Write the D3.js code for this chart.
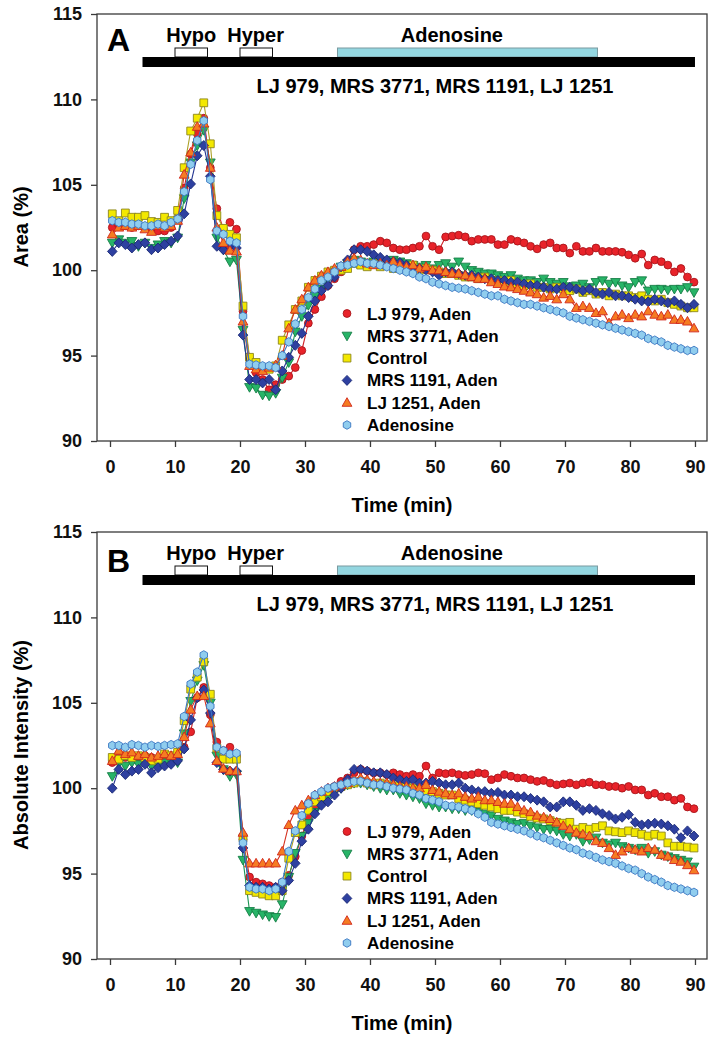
<!DOCTYPE html>
<html>
<head>
<meta charset="utf-8">
<script src="https://cdn.jsdelivr.net/npm/d3@7"></script>
<style>
  body { margin: 0; background: #fff; }
  svg { display: block; font-family: "Liberation Sans", Arial, sans-serif; font-weight: bold; }
</style>
</head>
<body>
<svg id="chart" width="715" height="1042"></svg>
<script>
// sampling times (min), one frame per ~1 min
const times = d3.range(90).map(i => 0.35 + i * 1.0056);
const x_ticks = [0, 10, 20, 30, 40, 50, 60, 70, 80, 90];
const y_ticks = [90, 95, 100, 105, 110, 115];
const legend_names = ["LJ 979, Aden", "MRS 3771, Aden", "Control", "MRS 1191, Aden", "LJ 1251, Aden", "Adenosine"];
const protocol_labels = ["Hypo", "Hyper", "Adenosine"];
const drug_label = "LJ 979, MRS 3771, MRS 1191, LJ 1251";

// ---- panel A : Area (%) ----
const area_lj979 = [
  102.5, 102.6, 102.6, 102.5, 102.6, 102.5, 102.4, 102.3, 102.3, 102.5,
  103.0, 104.8, 106.8, 108.0, 108.9, 106.0, 103.6, 102.4, 102.8, 102.4,
  97.6, 94.8, 94.0, 93.6, 93.0, 93.3, 93.6, 93.8, 94.3, 95.3,
  96.9, 97.7, 98.45, 99.1, 99.5, 99.9, 100.5, 101.2, 101.4, 101.4,
  101.5, 101.7, 101.6, 101.3, 101.2, 101.2, 101.3, 101.4, 102.0, 101.4,
  101.2, 101.95, 102.0, 102.05, 101.95, 101.7, 101.8, 101.8, 101.8, 101.5,
  101.5, 101.8, 101.7, 101.6, 101.4, 101.25, 101.5, 101.6, 101.3, 101.3,
  101.0, 101.4, 101.1, 101.1, 101.3, 101.1, 101.1, 101.1, 101.05, 100.9,
  100.7, 100.95, 100.3, 100.6, 100.5, 100.3, 99.9, 100.1, 99.6, 99.3
];
const area_mrs3771 = [
  101.6, 101.8, 101.6, 101.7, 101.4, 101.6, 101.3, 101.5, 101.7, 101.6,
  101.9, 104.2, 106.3, 107.3, 108.2, 106.3, 101.9, 101.2, 100.5, 100.6,
  96.5, 93.15, 93.1, 92.7, 92.65, 92.8, 93.7, 94.6, 96.4, 97.3,
  97.95, 98.5, 98.9, 99.5, 99.8, 100.2, 100.4, 100.6, 100.5, 100.4,
  100.5, 100.4, 100.5, 100.6, 100.5, 100.4, 100.3, 100.2, 100.3, 100.1,
  100.3, 100.4, 100.2, 100.5, 100.2, 100.0, 99.9, 99.8, 99.8, 99.7,
  99.6, 99.7, 99.5, 99.4, 99.4, 99.3, 99.5, 99.3, 99.2, 99.3,
  99.05, 99.1, 99.2, 99.0, 99.3, 99.4, 99.2, 99.3, 99.1, 99.0,
  99.3, 99.4, 98.8, 98.9, 98.9, 98.85, 98.9, 98.9, 99.0, 98.7
];
const area_control = [
  103.3, 102.9, 103.35, 103.1, 103.1, 103.2, 102.85, 102.8, 103.1, 102.9,
  103.5, 106.0, 108.15, 108.9, 109.8, 107.4, 103.2, 102.45, 102.1, 101.9,
  97.9, 94.9, 94.6, 94.2, 94.2, 94.4, 95.9, 96.8, 97.7, 98.2,
  99.0, 99.4, 99.65, 99.9, 100.0, 100.0, 100.1, 100.4, 100.3, 100.2,
  100.4, 100.2, 100.3, 100.1, 100.2, 100.1, 100.3, 100.0, 100.1, 100.0,
  99.9, 99.8, 99.8, 99.7, 99.6, 99.6, 99.5, 99.6, 99.4, 99.4,
  99.3, 99.4, 99.2, 99.1, 99.2, 99.0, 99.0, 98.9, 99.0, 98.9,
  98.8, 98.9, 98.7, 98.8, 98.6, 98.7, 98.5, 98.6, 98.5, 98.5,
  98.4, 98.5, 98.3, 98.2, 98.3, 98.1, 98.0, 97.9, 97.8, 97.8
];
const area_mrs1191 = [
  101.1, 101.6, 101.5, 101.3, 101.5, 101.6, 101.2, 101.3, 101.5, 101.7,
  102.0, 103.3, 105.05, 106.7, 107.3, 105.5, 101.4, 101.2, 101.4, 101.3,
  96.2, 93.6, 93.6, 93.4, 93.6, 93.0, 94.1, 94.9, 95.6, 96.3,
  97.3, 98.2, 98.8, 99.1, 99.6, 100.2, 100.6, 101.2, 101.2, 101.1,
  100.9, 100.75, 100.6, 100.5, 100.45, 100.3, 100.2, 100.1, 100.0, 99.9,
  99.7, 99.9, 99.9, 99.8, 99.7, 99.7, 99.6, 99.5, 99.5, 99.4,
  99.4, 99.3, 99.3, 99.2, 99.1, 99.1, 99.0, 98.9, 98.9, 99.0,
  99.0, 98.9, 98.8, 98.9, 98.7, 98.6, 98.7, 98.5, 98.5, 98.4,
  98.3, 98.2, 98.15, 98.3, 98.2, 98.1, 98.2, 98.0, 97.8, 98.0
];
const area_lj1251 = [
  102.1, 102.5, 102.6, 102.5, 102.6, 102.4, 102.25, 102.6, 102.5, 102.6,
  102.9, 105.6, 106.9, 108.4, 108.6, 106.0, 102.5, 101.6, 101.15, 101.1,
  97.0, 94.4, 94.2, 94.1, 94.3, 94.45, 95.0, 96.6, 97.7, 98.3,
  99.0, 99.4, 99.7, 99.9, 100.1, 100.2, 100.5, 100.7, 100.6, 100.4,
  100.3, 100.4, 100.3, 100.5, 100.3, 100.2, 100.3, 100.1, 100.2, 100.0,
  100.0, 99.9, 99.8, 99.8, 99.7, 99.6, 99.5, 99.5, 99.3, 99.2,
  99.05, 99.0, 98.9, 98.8, 98.7, 98.6, 98.4, 98.5, 98.3, 98.6,
  98.3, 97.8, 97.9, 97.8, 97.5, 97.6, 96.9, 97.3, 97.4, 97.2,
  97.4, 97.3, 97.6, 97.4, 97.3, 97.4, 97.1, 97.1, 97.0, 96.6
];
const area_adenosine = [
  102.9, 102.8, 102.8, 102.7, 102.7, 102.6, 102.6, 102.7, 102.6, 102.8,
  103.0, 104.6, 106.2, 107.6, 108.75, 105.3, 102.3, 102.1, 101.7, 101.6,
  97.3, 94.5, 94.45, 94.4, 94.4, 94.3, 95.0, 95.8, 96.85, 97.7,
  98.4, 98.9, 99.4, 99.6, 99.9, 100.25, 100.3, 100.4, 100.5, 100.4,
  100.4, 100.3, 100.2, 100.1, 100.0, 99.9, 99.8, 99.6, 99.5, 99.3,
  99.2, 99.1, 99.0, 98.95, 98.9, 98.8, 98.7, 98.6, 98.5, 98.5,
  98.3, 98.2, 98.1, 98.0, 98.0, 97.9, 97.8, 97.7, 97.6, 97.5,
  97.3, 97.2, 97.1, 97.0, 96.9, 96.8, 96.7, 96.6, 96.5, 96.4,
  96.3, 96.2, 96.0, 95.9, 95.8, 95.6, 95.5, 95.4, 95.3, 95.3
];

// ---- panel B : Absolute Intensity (%) ----
const intensity_lj979 = [
  101.5, 102.0, 101.8, 101.9, 101.8, 101.9, 101.8, 101.7, 101.8, 101.9,
  102.1, 102.4, 103.3, 105.3, 105.9, 104.3, 102.7, 102.2, 102.4, 101.9,
  97.0, 94.8, 94.5, 94.4, 94.3, 94.2, 94.5, 94.9, 96.0, 97.2,
  98.3, 98.9, 99.4, 99.8, 100.1, 100.4, 100.6, 100.9, 101.1, 101.0,
  100.9, 100.9, 100.8, 100.9, 100.8, 100.7, 100.8, 100.7, 101.3, 100.6,
  100.9, 100.85, 100.9, 100.8, 100.75, 100.8, 100.9, 100.85, 100.5, 100.6,
  100.8, 100.7, 100.6, 100.6, 100.5, 100.4, 100.45, 100.3, 100.2, 100.25,
  100.3, 100.2, 100.3, 100.35, 100.2, 100.2, 100.1, 100.1, 100.0, 100.1,
  99.9, 99.9, 99.6, 99.7, 99.5, 99.5, 99.3, 99.4, 98.9, 98.8
];
const intensity_mrs3771 = [
  100.7, 101.45, 101.3, 101.5, 101.4, 101.5, 101.3, 101.4, 101.5, 101.6,
  101.5, 103.2, 105.1, 106.3, 107.2, 105.0, 101.9, 101.1, 100.7, 100.8,
  95.8, 92.8, 92.7, 92.6, 92.5, 92.45, 93.2, 94.8, 96.2, 97.2,
  97.95, 98.6, 99.1, 99.5, 99.8, 100.0, 100.2, 100.3, 100.3, 100.2,
  100.1, 100.0, 99.9, 99.9, 99.7, 99.6, 99.5, 99.4, 99.1, 99.0,
  98.9, 98.9, 98.8, 98.8, 98.7, 98.7, 98.6, 98.5, 98.4, 98.2,
  98.1, 98.0, 97.9, 97.95, 97.8, 97.7, 97.6, 97.6, 97.5, 97.3,
  97.2, 97.3, 96.9, 97.0, 97.1, 96.8, 96.7, 96.8, 96.6, 96.5,
  96.4, 96.5, 96.2, 96.3, 96.1, 96.0, 95.9, 95.8, 95.7, 95.4
];
const intensity_control = [
  101.8, 101.7, 101.9, 101.8, 101.9, 101.8, 101.6, 101.7, 102.0, 101.9,
  102.1, 103.95, 105.8, 106.5, 107.4, 105.5, 102.35, 101.7, 101.7, 101.7,
  97.1, 94.0, 93.9, 93.8, 93.7, 93.7, 94.0, 95.9, 97.4, 97.85,
  98.7, 99.2, 99.5, 99.8, 100.0, 100.1, 100.2, 100.3, 100.4, 100.3,
  100.2, 100.3, 100.2, 100.1, 100.2, 100.1, 100.0, 99.9, 99.85, 99.8,
  99.7, 99.6, 99.6, 99.4, 99.3, 99.2, 99.1, 99.0, 98.9, 98.8,
  98.7, 98.7, 98.6, 98.5, 98.35, 98.25, 98.2, 98.1, 98.0, 97.95,
  98.0, 97.6, 97.7, 97.6, 97.7, 97.8, 97.5, 97.45, 97.4, 97.5,
  97.4, 97.3, 97.2, 97.3, 97.2, 96.8, 96.6, 96.6, 96.55, 96.5
];
const intensity_mrs1191 = [
  100.0, 101.1, 100.8, 101.0, 101.1, 101.4, 100.9, 101.2, 101.3, 101.4,
  101.6, 102.3, 104.0, 105.3, 105.75, 104.4, 101.5, 101.1, 101.0, 101.0,
  96.5, 94.3, 94.2, 94.2, 94.1, 94.2, 94.0, 94.6, 95.6, 96.9,
  97.6, 98.5, 99.0, 99.2, 99.6, 100.0, 100.5, 101.1, 101.1, 101.0,
  100.9, 100.9, 100.8, 100.6, 100.5, 100.4, 100.5, 100.3, 100.3, 100.4,
  100.3, 100.2, 100.2, 100.3, 100.0, 99.9, 99.8, 99.8, 99.7, 99.75,
  99.6, 99.6, 99.5, 99.5, 99.4, 99.3, 99.2, 98.9, 98.9, 99.2,
  99.2, 99.0, 98.7, 98.8, 98.7, 98.5, 98.4, 98.2, 98.3, 98.45,
  98.0, 97.85, 97.9, 97.95, 97.9, 97.8, 97.6, 97.1, 97.5, 97.2
];
const intensity_lj1251 = [
  101.6, 102.2, 102.0, 102.1, 101.9, 102.0, 101.8, 101.9, 102.0, 101.9,
  102.0, 103.0, 104.6, 105.4, 105.4, 103.8, 101.6, 101.15, 101.0, 101.0,
  97.4, 95.6, 95.6, 95.6, 95.6, 95.6, 96.3, 97.85, 98.7, 99.0,
  99.3, 99.6, 99.8, 100.0, 100.1, 100.2, 100.3, 100.5, 100.6, 100.5,
  100.4, 100.3, 100.3, 100.2, 100.1, 100.1, 100.0, 100.0, 100.2, 99.9,
  99.8, 99.7, 99.6, 99.7, 99.5, 99.4, 99.5, 99.3, 99.3, 99.2,
  99.1, 99.1, 98.9, 98.7, 98.6, 98.4, 98.3, 98.2, 98.0, 97.8,
  97.6, 97.4, 97.3, 97.2, 96.9, 96.8, 96.5, 96.1, 96.3, 96.5,
  96.4, 96.3, 96.5, 96.4, 96.1, 96.0, 95.8, 95.7, 95.5, 95.2
];
const intensity_adenosine = [
  102.5, 102.5, 102.4, 102.55, 102.5, 102.4, 102.5, 102.45, 102.5, 102.55,
  102.6, 104.2, 106.1, 106.8, 107.8, 104.8, 102.4, 102.2, 102.0, 102.05,
  96.8, 94.2, 94.1, 94.1, 94.0, 94.1, 94.5, 96.3, 97.5, 98.4,
  99.1, 99.6, 99.8, 100.0, 100.1, 100.2, 100.3, 100.4, 100.4, 100.3,
  100.2, 100.2, 100.1, 100.0, 99.95, 99.9, 99.7, 99.6, 99.4, 99.3,
  99.2, 99.0, 98.95, 98.9, 98.8, 98.7, 98.5, 98.3, 98.0, 97.9,
  97.8, 97.7, 97.6, 97.5, 97.35, 97.2, 97.1, 96.95, 96.8, 96.65,
  96.5, 96.4, 96.2, 96.1, 95.95, 95.8, 95.7, 95.6, 95.45, 95.3,
  95.2, 95.0, 94.8, 94.65, 94.5, 94.3, 94.2, 94.1, 94.0, 93.9
];

const __STYLE__ = [
  {shape: "circle",        fill: "#e8232a", stroke: "#a8161c", line: "#cf2027"},
  {shape: "triangle-down", fill: "#27b467", stroke: "#167e46", line: "#1d9553"},
  {shape: "square",        fill: "#f3e800", stroke: "#8c861d", line: "#aca128"},
  {shape: "diamond",       fill: "#2e40a0", stroke: "#1b2975", line: "#243591"},
  {shape: "triangle-up",   fill: "#f57c22", stroke: "#d0261c", line: "#d4301f"},
  {shape: "hexagon",       fill: "#90cdee", stroke: "#3a76c2", line: "#3a76c2"}
];

function symbol_path(shape) {
  const poly = pts => "M" + pts.map(p => p.join(",")).join("L") + "Z";
  switch (shape) {
    case "circle":        return d3.symbol(d3.symbolCircle, Math.PI * 3.9 * 3.9)();
    case "square":        return poly([[-3.9, -3.9], [3.9, -3.9], [3.9, 3.9], [-3.9, 3.9]]);
    case "diamond":       return poly([[0, -5], [4.8, 0], [0, 5], [-4.8, 0]]);
    case "triangle-up":   return poly([[0, -5], [4.9, 3.6], [-4.9, 3.6]]);
    case "triangle-down": return poly([[0, 5], [4.9, -3.6], [-4.9, -3.6]]);
    case "hexagon":
      return poly(d3.range(6).map(k => {
        const a = -Math.PI / 2 + k * Math.PI / 3;
        return [4.3 * Math.cos(a), 4.3 * Math.sin(a)];
      }));
  }
}

class Panel {
  width = 715;
  left = 97;
  right = 707;
  height = 427;

  setSvg(svg, top) {
    this.top = top;
    this.g = svg.append("g").classed("panel", true);
    this.x = d3.scaleLinear().domain([-2, 91.85]).range([this.left, this.right]);
    this.y = d3.scaleLinear().domain([90, 115]).range([top + this.height, top]);
    return this;
  }

  setSeries(series) {
    this.series = series;
    return this;
  }

  render_axes(y_label) {
    const {g, x, y, top} = this;
    const bottom = top + this.height;

    // frame
    g.append("rect")
        .attr("x", this.left).attr("y", top)
        .attr("width", this.right - this.left).attr("height", this.height)
        .attr("fill", "none").attr("stroke", "#3a3a3a").attr("stroke-width", 1.3);

    const y_axis = g.append("g")
        .attr("transform", `translate(${this.left},0)`)
        .call(d3.axisLeft(y).tickValues(y_ticks).tickSize(6).tickSizeOuter(0).tickPadding(9));
    const x_axis = g.append("g")
        .attr("transform", `translate(0,${bottom})`)
        .call(d3.axisBottom(x).tickValues(x_ticks).tickSize(6).tickSizeOuter(0).tickPadding(13));
    [y_axis, x_axis].forEach(a => {
      a.select(".domain").remove();
      a.selectAll("line").attr("stroke", "#3a3a3a").attr("stroke-width", 1.3);
      a.selectAll("text")
          .attr("fill", "#111")
          .style("font-size", "18px")
          .style("font-weight", "bold")
          .style("font-family", "'Liberation Sans', Arial, sans-serif");
    });

    g.append("text")
        .attr("transform", `translate(21,${top + 213}) rotate(-90)`)
        .attr("text-anchor", "middle")
        .attr("dominant-baseline", "central")
        .style("font-size", "20px")
        .text(y_label);

    g.append("text")
        .attr("x", (this.left + this.right) / 2)
        .attr("y", bottom + 71)
        .attr("text-anchor", "middle")
        .style("font-size", "20px")
        .text("Time (min)");
    return this;
  }

  render_protocol(letter, letter_dy) {
    const {g, x, top} = this;
    const bar_y = top + 43;

    g.append("text")
        .attr("x", 107).attr("y", top + letter_dy)
        .style("font-size", "32px")
        .text(letter);

    // solution boxes sit on top of the drug bar
    const boxes = [[10, 15, "#fff", "#111"], [20, 25, "#fff", "#111"], [35, 75, "#93d6e0", "#7a9aa0"]];
    boxes.forEach(([t0, t1, fill, stroke]) => {
      g.append("rect")
          .attr("x", x(t0)).attr("y", top + 34)
          .attr("width", x(t1) - x(t0)).attr("height", 9)
          .attr("fill", fill).attr("stroke", stroke).attr("stroke-width", 1);
    });
    const label_x = [x(12.5), x(22.4), x(52.6)];
    protocol_labels.forEach((txt, i) => {
      g.append("text")
          .attr("x", label_x[i]).attr("y", top + 28)
          .attr("text-anchor", "middle")
          .style("font-size", "20px")
          .text(txt);
    });

    g.append("rect")
        .attr("x", x(5)).attr("y", bar_y)
        .attr("width", x(90) - x(5)).attr("height", 10)
        .attr("fill", "#000");

    g.append("text")
        .attr("x", 435).attr("y", top + 79)
        .attr("text-anchor", "middle")
        .style("font-size", "20px")
        .text(drug_label);
    return this;
  }

  render_series() {
    const {g, x, y} = this;
    const line = d3.line().x(d => x(d[0])).y(d => y(d[1]));

    this.series.forEach((values, i) => {
      const style = __STYLE__[i];
      const pts = values.map((v, k) => [times[k], v]);
      const sg = g.append("g").classed("series", true);
      sg.append("path")
          .attr("d", line(pts))
          .attr("fill", "none")
          .attr("stroke", style.line)
          .attr("stroke-width", 1.1);
      sg.selectAll("path.marker")
        .data(pts)
        .join("path")
          .classed("marker", true)
          .attr("d", symbol_path(style.shape))
          .attr("transform", d => `translate(${x(d[0])},${y(d[1])})`)
          .attr("fill", style.fill)
          .attr("stroke", style.stroke)
          .attr("stroke-width", 0.9);
    });
    return this;
  }

  render_legend() {
    const {g, top} = this;
    legend_names.forEach((name, i) => {
      const style = __STYLE__[i];
      const cy = top + 299.5 + i * 22.3;
      g.append("path")
          .attr("d", symbol_path(style.shape))
          .attr("transform", `translate(347,${cy})`)
          .attr("fill", style.fill)
          .attr("stroke", style.stroke)
          .attr("stroke-width", 0.9);
      g.append("text")
          .attr("x", 367).attr("y", cy + 6)
          .style("font-size", "17px")
          .text(name);
    });
    return this;
  }
}

const svg = d3.select("#chart");

new Panel()
    .setSvg(svg, 14)
    .setSeries([area_lj979, area_mrs3771, area_control, area_mrs1191, area_lj1251, area_adenosine])
    .render_axes("Area (%)")
    .render_protocol("A", 37)
    .render_series()
    .render_legend();

new Panel()
    .setSvg(svg, 532)
    .setSeries([intensity_lj979, intensity_mrs3771, intensity_control, intensity_mrs1191, intensity_lj1251, intensity_adenosine])
    .render_axes("Absolute Intensity (%)")
    .render_protocol("B", 40)
    .render_series()
    .render_legend();
</script>
</body>
</html>
